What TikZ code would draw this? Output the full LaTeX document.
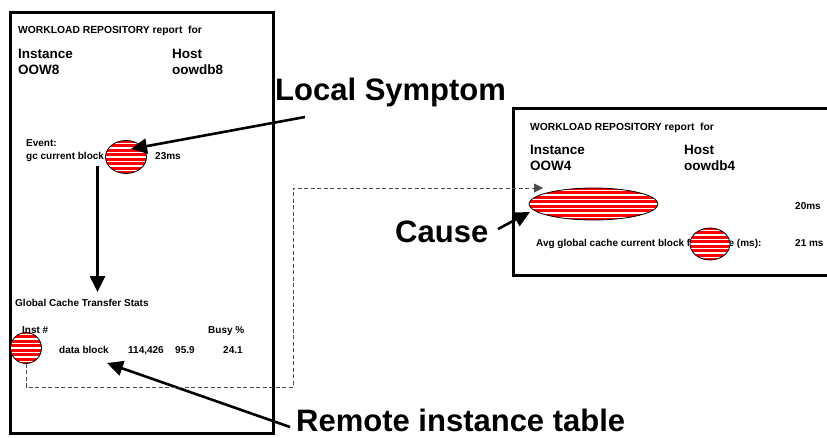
\documentclass[tikz,border=0pt]{standalone}
\usepackage{fontspec}
\setmainfont{Liberation Sans}
\usetikzlibrary{arrows.meta,shapes.geometric}
\begin{document}
\begin{tikzpicture}[x=1pt,y=-1pt,
  report/.style={draw, line width=3pt},
  txt/.style={anchor=base west, inner sep=0pt, font=\bfseries\fontsize{10}{12}\selectfont},
  head/.style={anchor=base west, inner sep=0pt, font=\bfseries\fontsize{10.3}{12}\selectfont},
  mid/.style={anchor=base west, inner sep=0pt, font=\bfseries\fontsize{13.5}{15}\selectfont},
  big/.style={anchor=base west, inner sep=0pt, font=\bfseries\fontsize{31}{34}\selectfont},
  hot/.style={draw=black, line width=0.8pt, inner sep=0pt, fill=red,
    path picture={
      \foreach \k in {-12,...,12}
        \draw[white, line width=1.1pt]
          ([yshift=\k*4.5pt]path picture bounding box.west) --
          ([yshift=\k*4.5pt]path picture bounding box.east);
    }},
  pointer/.style={line width=2.6pt, -{Triangle[length=16pt,width=15pt]}},
  link/.style={draw=black!70, line width=0.9pt, dash pattern=on 4pt off 2.5pt,
    -{Triangle[length=9pt,width=9pt]}}]
\useasboundingbox (0,0) rectangle (827,437);
\clip (0,0) rectangle (827,437);

% ---- local instance report ----
\draw[report] (10,12) rectangle (273,433);
\node[head] (h1) at (18,33) {WORKLOAD REPOSITORY report\ \ for};
\node[mid] (i1) at (18,58) {Instance};
\node[mid] (o1) at (18,74) {OOW8};
\node[mid] (hh1) at (172,58) {Host};
\node[mid] (hn1) at (172,74) {oowdb8};
\node[txt] (ev) at (26,146) {Event:};
\node[txt] (gc) at (26,159) {gc current block busy};
\node[txt] (ms1) at (155,159) {23ms};
\node[hot, ellipse, minimum width=41pt, minimum height=33pt] (sym) at (126,157) {};

\node[txt] (gcts) at (15,306) {Global Cache Transfer Stats};
\node[txt] (inst) at (22,333) {Inst \#};
\node[txt] (busy) at (208,333) {Busy \%};
\node[txt] (db) at (59,353) {data block};
\node[txt] (n1) at (128,353) {114,426};
\node[txt] (n2) at (175,353) {95.9};
\node[txt] (n3) at (223,353) {24.1};
\node[hot, circle, minimum size=31pt] (rinst) at (26,348) {};

% ---- remote instance report ----
\draw[report] (513,108) rectangle (850,275);
\node[head] (h2) at (530,130) {WORKLOAD REPOSITORY report\ \ for};
\node[mid] (i2) at (530,154) {Instance};
\node[mid] (o2) at (530,170) {OOW4};
\node[mid] (hh2) at (684,154) {Host};
\node[mid] (hn2) at (684,170) {oowdb4};
\node[hot, ellipse, minimum width=129pt, minimum height=32pt] (cause) at (593.5,204) {};
\node[txt] (ms2) at (795,209) {20ms};
\node[txt] (avg) at (536,246) {Avg global cache current block flush time (ms):};
\node[txt] (ms3) at (795,246) {21 ms};
\node[hot, ellipse, minimum width=40pt, minimum height=32pt] (flush) at (710,244) {};

% ---- callouts ----
\node[big] (lsym) at (275,100) {Local Symptom};
\node[big] (lcause) at (395,242) {Cause};
\node[big] (lrem) at (296,431) {Remote instance table};

\coordinate (lsymA) at (305,117);
\coordinate (symTip) at (131,149);
\coordinate (downA) at (97.5,166);
\coordinate (downTip) at (97.5,292);
\coordinate (causeA) at (498,229);
\coordinate (causeTip) at (530,212);
\coordinate (remA) at (290,427);
\coordinate (remTip) at (107,363);
\coordinate (linkTip) at (543,188);

\draw[pointer] (lsymA) -- (symTip);
\draw[pointer] (downA) -- (downTip);
\draw[pointer] (causeA) -- (causeTip);
\draw[pointer] (remA) -- (remTip);

\draw[link] (rinst.south) |- (293,387) |- (linkTip);
\end{tikzpicture}
\end{document}
